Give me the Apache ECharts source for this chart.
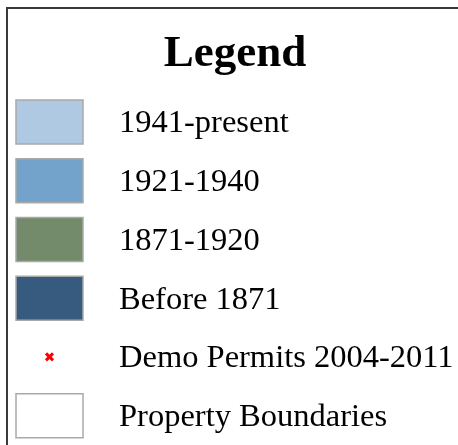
<!DOCTYPE html>
<html><head><meta charset="utf-8">
<script src="https://cdn.jsdelivr.net/npm/echarts@6/dist/echarts.min.js"></script>
<style>html,body{margin:0;padding:0;background:#fff}#c{width:458px;height:445px}</style>
</head><body><div id="c"></div>
<script>
const titleText = 'Legend';
const categories = ['1941-present', '1921-1940', '1871-1920', 'Before 1871', 'Demo Permits 2004-2011', 'Property Boundaries'];
const symbolKinds = ['rect', 'rect', 'rect', 'rect', 'cross', 'rect'];
const fillColors = ['#afc9e3', '#73a2ca', '#738b6b', '#365b7e', '#ff0000', '#ffffff'];

const chart = echarts.init(document.getElementById('c'), null, {renderer: 'canvas'});
const data = categories.map((c, i) => [0, i, symbolKinds[i], fillColors[i], c]);

chart.setOption({
  animation: false,
  backgroundColor: '#ffffff',
  title: {
    text: titleText, left: 230, top: 27, textAlign: 'center',
    textStyle: {fontFamily: 'Liberation Serif', fontWeight: 'bold', fontSize: 45, color: '#000'}
  },
  graphic: [{
    type: 'rect', shape: {x: 7, y: 8, width: 470, height: 460},
    style: {fill: 'none', stroke: '#3a3a3a', lineWidth: 2}, silent: true
  }],
  grid: {left: 0, right: 0, top: 92.5, height: 354},
  xAxis: {type: 'value', min: 0, max: 100, show: false},
  yAxis: {type: 'category', data: categories, inverse: true, show: false},
  series: [{
    type: 'custom',
    data: data,
    encode: {x: 0, y: 1},
    renderItem: function (params, api) {
      const idx = params.dataIndex;
      const p = api.coord([api.value(0), idx]);
      const kind = data[idx][2];
      const col = data[idx][3];
      const label = data[idx][4];
      const cx = 49.5, cy = p[1];
      const children = [];
      if (kind === 'rect') {
        children.push({type: 'rect', shape: {x: cx - 33.5, y: cy - 22, width: 67, height: 44},
          style: {fill: col, stroke: '#a9a9a9', lineWidth: 1.5}});
      } else {
        children.push({type: 'line', shape: {x1: cx - 3.5, y1: cy - 3.5, x2: cx + 3.5, y2: cy + 3.5},
          style: {stroke: col, lineWidth: 3}});
        children.push({type: 'line', shape: {x1: cx - 3.5, y1: cy + 3.5, x2: cx + 3.5, y2: cy - 3.5},
          style: {stroke: col, lineWidth: 3}});
      }
      children.push({type: 'text', x: 119, y: cy + 2,
        style: {text: label, fontFamily: 'Liberation Serif', fontSize: 32.5, fill: '#000',
          verticalAlign: 'middle', align: 'left'}});
      return {type: 'group', children: children};
    }
  }]
});
</script></body></html>
